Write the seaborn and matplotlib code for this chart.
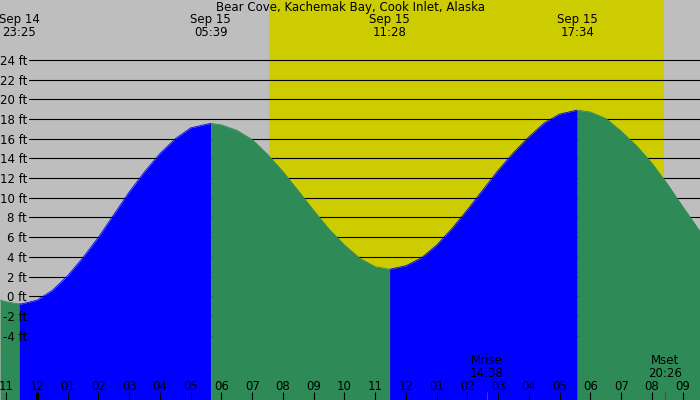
import numpy as np
import pandas as pd
import matplotlib
matplotlib.use("Agg")
import matplotlib.pyplot as plt
import matplotlib.transforms as mtransforms
import seaborn as sns

# --- DATEN ---
TITLE = "Bear Cove, Kachemak Bay, Cook Inlet, Alaska"

# Stunden ab Mitternacht Sep 15 (negativ = Sep 14)
tide_hours = [-1.2, -1.0, -0.583, -0.5, 0.0, 0.5, 1.0, 1.5, 2.0, 2.5, 3.0, 3.5, 4.0, 4.5, 5.0, 5.65,
              6.0, 6.5, 7.0, 7.5, 8.0, 8.5, 9.0, 9.5, 10.0, 10.5, 11.0, 11.467,
              12.0, 12.5, 13.0, 13.5, 14.0, 14.5, 15.0, 15.5, 16.0, 16.5, 17.0, 17.567,
              18.0, 18.5, 19.0, 19.5, 20.0, 20.5, 21.0, 21.56]
tide_ft = [-0.38, -0.55, -0.78, -0.77, -0.4, 0.6, 2.1, 3.95, 6.0, 8.3, 10.6, 12.65, 14.5, 16.0, 17.1, 17.56,
           17.4, 16.85, 15.9, 14.4, 12.65, 10.7, 8.7, 6.8, 5.2, 3.85, 3.0, 2.74,
           3.1, 3.9, 5.2, 6.9, 8.8, 10.8, 12.8, 14.6, 16.2, 17.6, 18.5, 18.9,
           18.7, 18.05, 16.75, 15.27, 13.5, 11.4, 9.1, 6.6]

extreme_dates = ["Sep 14", "Sep 15", "Sep 15", "Sep 15"]
extreme_times = ["23:25", "05:39", "11:28", "17:34"]

moon_names = ["Mrise", "Mset"]
moon_times = ["14:38", "20:26"]

sunrise = "07:33"
sunset = "20:23"

y_levels = list(range(-4, 25, 2))
hour_ticks = list(range(-1, 22))

GRAY = "#bebebe"
YELLOW = "#cccc00"
BLUE = "#0000ff"
GREEN = "#2e8b57"


def to_hour(t, date="Sep 15"):
    hh, mm = t.split(":")
    h = int(hh) + int(mm) / 60.0
    return h - 24 if date == "Sep 14" else h


sns.set_theme(style="white")
plt.rcParams["font.family"] = ["DejaVu Sans"]
plt.rcParams["text.color"] = "black"
FS = 8.5

df = pd.DataFrame({"hour": tide_hours, "ft": tide_ft})
ext_h = [to_hour(t, d) for t, d in zip(extreme_times, extreme_dates)]
# Index der Extremwerte in der Tabelle
ext_idx = [int(np.argmin(np.abs(df["hour"].values - h))) for h in ext_h]

fig = plt.figure(figsize=(7, 4), dpi=100)
ax = fig.add_axes([0, 0, 1, 1])
x0, x1 = -1.203, 21.561
y0, y1 = -10.53, 30.08
ax.set_xlim(x0, x1)
ax.set_ylim(y0, y1)
ax.set_facecolor(GRAY)
ax.grid(False)
for s in ax.spines.values():
    s.set_visible(False)

# Tageslicht
ax.axvspan(to_hour(sunrise), to_hour(sunset), color=YELLOW, lw=0, zorder=0)

# Hilfslinien
for lvl in y_levels:
    ax.axhline(lvl, xmin=29 / 700, color="black", lw=0.8, zorder=1)

# Flaeche: steigend blau, fallend gruen
cuts = [0] + ext_idx + [len(df) - 1]
colors = [GREEN, BLUE, GREEN, BLUE, GREEN]
for a, b, c in zip(cuts[:-1], cuts[1:], colors):
    sub = df.iloc[a:b + 1]
    ax.fill_between(sub["hour"], sub["ft"], y0, color=c, lw=0, zorder=2, antialiased=False)
    sns.lineplot(data=sub, x="hour", y="ft", color=c, lw=0.6, ax=ax, zorder=2)
ax.set_xlabel("")
ax.set_ylabel("")
ax.xaxis.set_zorder(5)
ax.yaxis.set_zorder(5)

# Achsen
ax.set_yticks(y_levels, labels=[f"{v} ft" for v in y_levels])
ax.tick_params(axis="y", which="both", left=True, length=0, pad=-19.4,
               labelsize=FS, labelcolor="black")
ax.set_xticks(hour_ticks, labels=[f"{(h % 12) or 12:02d}" for h in hour_ticks])
ax.tick_params(axis="x", which="major", bottom=True, direction="in", length=5.8,
               width=0.8, color="black", pad=-14.4, labelsize=FS, labelcolor="black")
ax.set_xticks([to_hour(t) for t in moon_times], minor=True)
ax.tick_params(axis="x", which="minor", bottom=True, direction="in", length=5.8,
               width=0.8, color="red")
ax.xaxis.get_major_ticks()[1].tick1line.set_markeredgewidth(2.2)

# Texte
trans = mtransforms.blended_transform_factory(ax.transData, ax.transAxes)
ax.text(0.5, 1 - 7 / 400, TITLE, transform=ax.transAxes, ha="center", va="center",
        fontsize=FS, color="black", zorder=6)
for h, d, t in zip(ext_h, extreme_dates, extreme_times):
    ax.text(h, 1 - 26 / 400, f"{d}\n{t}", transform=trans, ha="center", va="center",
            fontsize=FS, linespacing=1.05, color="black", zorder=6)
for name, t in zip(moon_names, moon_times):
    ax.text(to_hour(t), 1 - 367 / 400, f"{name}\n{t}", transform=trans, ha="center",
            va="center", fontsize=FS, linespacing=1.05, color="black", zorder=6)

fig.savefig("out.png", dpi=100)
